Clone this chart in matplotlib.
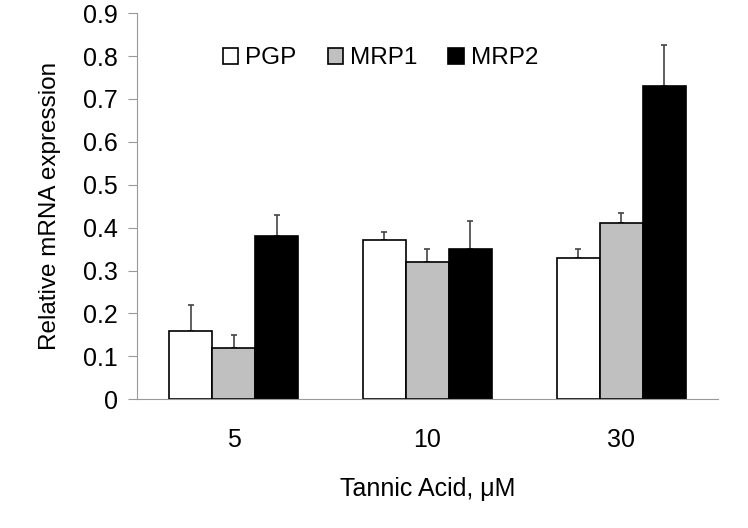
import numpy as np
import matplotlib.pyplot as plt

plt.rcParams['font.family'] = ['Liberation Sans', 'DejaVu Sans']

categories = ["5", "10", "30"]
series = ["PGP", "MRP1", "MRP2"]
pgp = [0.16, 0.37, 0.33]
mrp1 = [0.12, 0.32, 0.41]
mrp2 = [0.38, 0.35, 0.73]
pgp_err = [0.06, 0.02, 0.02]
mrp1_err = [0.03, 0.03, 0.025]
mrp2_err = [0.05, 0.065, 0.095]

values = [pgp, mrp1, mrp2]
errors = [pgp_err, mrp1_err, mrp2_err]
colors = ["white", "#c0c0c0", "black"]

fig = plt.figure(figsize=(7.48, 5.28), dpi=100)
ax = fig.add_axes([0.183, 0.244, 0.777, 0.731])

x = np.arange(len(categories))
w = 0.222
for i, (vals, errs) in enumerate(zip(values, errors)):
    pos = x + (i - 1) * w
    ax.bar(pos, vals, w, color=colors[i], edgecolor="black", linewidth=1.2,
           label=series[i], zorder=2)
    ax.errorbar(pos, vals, yerr=[np.zeros(len(errs)), errs], fmt="none",
                ecolor="#444444", elinewidth=1.2, capsize=2.5, capthick=1.2, zorder=1)

ax.set_xlim(-0.5, 2.5)
ax.set_ylim(0, 0.9)
ax.set_yticks(np.arange(0, 0.91, 0.1))
ax.set_yticklabels(["0"] + ["%.1f" % v for v in np.arange(0.1, 0.91, 0.1)])
ax.set_xticks(x)
ax.set_xticklabels(categories)

for s in ["top", "right"]:
    ax.spines[s].set_visible(False)
ax.spines["left"].set_color("#999999")
ax.spines["bottom"].set_color("#999999")
ax.tick_params(axis="y", direction="out", length=6.5, color="#999999", labelsize=18, pad=7)
ax.tick_params(axis="x", length=0, labelsize=18, pad=21)

ax.set_ylabel("Relative mRNA expression", fontsize=17.5, labelpad=16)
ax.set_xlabel("Tannic Acid, \u03bcM", fontsize=18, labelpad=18)

ax.legend(loc="upper left", bbox_to_anchor=(0.148, 0.912), ncol=3, frameon=False,
          fontsize=17.5, handlelength=0.62, handleheight=0.65, handletextpad=0.3,
          columnspacing=1.28, borderpad=0, borderaxespad=0)

fig.savefig("out.png", dpi=100)
